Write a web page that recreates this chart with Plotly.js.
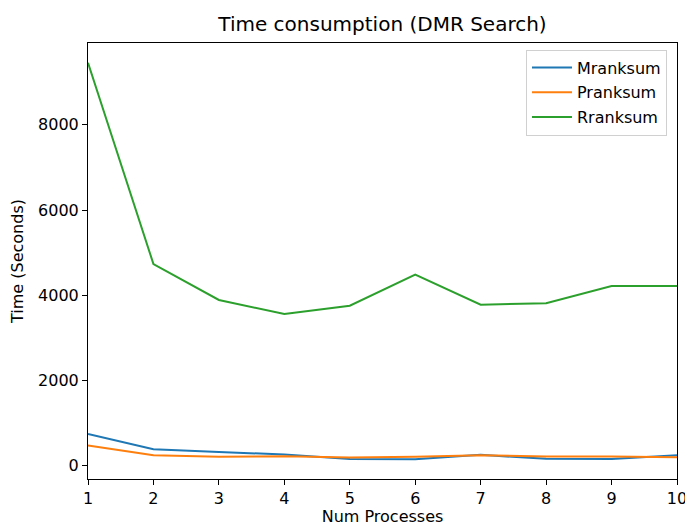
<!DOCTYPE html>
<html>
<head>
<meta charset="utf-8">
<script src="https://cdn.plot.ly/plotly-3.0.1.min.js"></script>
<style>html,body{margin:0;padding:0;background:#fff;}#chart{width:685px;height:526px;}</style>
</head>
<body>
<div id="chart"></div>
<script>
const processes = [1, 2, 3, 4, 5, 6, 7, 8, 9, 10];
const mranksum = [750, 391, 328, 265, 164, 157, 258, 165, 160, 250];
const pranksum = [476, 250, 211, 227, 195, 211, 250, 219, 219, 203];
const rranksum = [9454, 4735, 3891, 3563, 3758, 4484, 3781, 3814, 4219, 4219];
const seriesNames = ['Mranksum', 'Pranksum', 'Rranksum'];
const seriesColors = ['#1f77b4', '#ff7f0e', '#2ca02c'];
const yTicks = [0, 2000, 4000, 6000, 8000];

const font = 'DejaVu Sans, sans-serif';
const data = [mranksum, pranksum, rranksum].map((vals, i) => ({
  x: processes, y: vals, type: 'scatter', mode: 'lines', name: seriesNames[i],
  legendgroup: 'g' + i,
  line: {color: seriesColors[i], width: 2}
}));

const layout = {
  width: 685, height: 526,
  margin: {l: 88, r: 8, t: 43, b: 47},
  paper_bgcolor: '#fff', plot_bgcolor: '#fff',
  font: {family: font, color: '#000', size: 16},
  title: {text: 'Time consumption (DMR Search)', font: {size: 20, family: font, color: '#000'},
          x: 0.5584, xanchor: 'center', y: 1 - 24/526, yanchor: 'middle', yref: 'container'},
  showlegend: true,
  legend: {x: 0.983, xanchor: 'right', y: 0.985, yanchor: 'top', bgcolor: '#fff',
           bordercolor: '#d0d0d0', borderwidth: 1, font: {size: 16, family: font},
           tracegroupgap: 1, itemwidth: 40},
  xaxis: {range: [1, 10], tickvals: processes, ticks: 'outside', ticklen: 5, tickcolor: '#000',
          showline: true, linecolor: '#000', linewidth: 1, mirror: true, showgrid: false, zeroline: false,
          tickfont: {size: 16, family: font}, ticklabeloverflow: 'allow',
          title: {text: 'Num Processes', font: {size: 16, family: font}, standoff: 13}, automargin: false},
  yaxis: {range: [-308, 9919], tickvals: yTicks, ticks: 'outside', ticklen: 5, tickcolor: '#000',
          showline: true, linecolor: '#000', linewidth: 1, mirror: true, showgrid: false, zeroline: false,
          tickfont: {size: 16, family: font},
          title: {text: 'Time (Seconds)', font: {size: 16, family: font}, standoff: 10}, automargin: false}
};

Plotly.newPlot('chart', data, layout, {displayModeBar: false, staticPlot: true});
</script>
</body>
</html>
